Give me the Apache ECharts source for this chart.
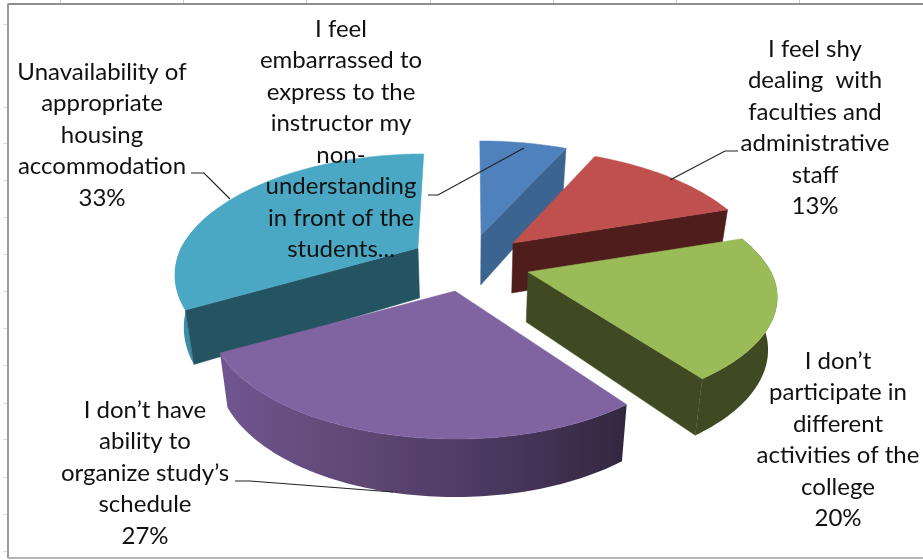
<!DOCTYPE html>
<html>
<head>
<meta charset="utf-8">
<style>html,body{margin:0;padding:0;background:#fff}#chart{width:923px;height:560px}</style>
<script src="https://cdn.jsdelivr.net/npm/echarts@6/dist/echarts.min.js"></script>
</head>
<body>
<div id="chart"></div>
<script>
// Survey answers, clockwise from twelve o'clock
const categories = [
  "I feel embarrassed to express to the instructor my non-understanding in front of the students...",
  "I feel shy dealing  with faculties and administrative staff",
  "I don’t participate in different activities of the college",
  "I don’t have ability to organize study’s schedule",
  "Unavailability of appropriate housing accommodation"
];
const values = [7, 13, 20, 27, 33];
const labelTexts = [
  "I feel\nembarrassed to\nexpress to the\ninstructor my\nnon-\nunderstanding\nin front of the\nstudents...",
  "I feel shy\ndealing  with\nfaculties and\nadministrative\nstaff\n13%",
  "I don’t\nparticipate in\ndifferent\nactivities of the\ncollege\n20%",
  "I don’t have\nability to\norganize study’s\nschedule\n27%",
  "Unavailability of\nappropriate\nhousing\naccommodation\n33%"
];

// Slice appearance and placement, same order as the values
const topColors = ["#4f81bd", "#c0504d", "#9bbb59", "#8064a2", "#4aa8c4"];
const cutColors = ["#3b6491", "#4f1e1c", "#3f4a22", "#5d4776", "#245361"];
const rimStops = [
  ["#3b6491", "#3b6491"],
  ["#4f1e1c", "#4f1e1c"],
  ["#3f4a22", "#3f4a22"],
  ["#6f5690", "#5f4875", "#4b3860", "#33273f"],
  ["#3c8ea8", "#3c8ea8"]
];
const apexes = [[481, 235], [513, 243], [528, 272], [455, 291], [418, 248]];
const stretchX = [1, 1, 1, 0.985, 0.975];
const nearStretchY = [1, 1, 0.94, 1, 1];
const labelCenters = [[341, 139.5], [815, 128], [838, 440], [145, 473], [102, 135]];
const leaderLines = [
  [[428, 195], [438, 195], [524, 148]],
  [[738, 151], [725, 151], [670, 180]],
  null,
  [[235, 481], [250, 481], [393, 492]],
  [[191, 173], [204, 173], [230, 199]]
];
const drawOrder = [0, 4, 1, 2, 3];

// Perspective of the tilted pie
const radiusX = 243, radiusY = 115, tilt = 0.223, vanishX = 470, farLean = 0.6;
const baseDepth = 51, depthSwing = 7, bottomShrink = 0.03, silhouetteMargin = 0.35;

const total = values.reduce((a, b) => a + b, 0);
const startAngles = [];
values.reduce((acc, v, i) => { startAngles[i] = acc; return acc + v / total * 2 * Math.PI; }, 0);

function rimPoint(i, theta) {
  const [ax, ay] = apexes[i];
  const c = Math.cos(theta);
  const s = 1 + tilt * c;
  const lean = (ax - vanishX) * Math.min(0, 1 / s - 1) * farLean;
  const sy = c < 0 ? nearStretchY[i] : 1;
  return [ax + lean + stretchX[i] * radiusX * Math.sin(theta) / s,
          ay - sy * radiusY * c / s];
}
function lowerPoint(p, theta) {
  return [p[0] + (vanishX - p[0]) * bottomShrink, p[1] + baseDepth - depthSwing * Math.cos(theta)];
}
function arcPoints(i, from, to) {
  const n = Math.max(2, Math.ceil((to - from) / 0.02));
  const pts = [];
  for (let k = 0; k <= n; k++) {
    const t = from + (to - from) * k / n;
    pts.push({ t, p: rimPoint(i, t) });
  }
  return pts;
}
function poly(points, fill) {
  return { type: 'polygon', shape: { points }, style: { fill, stroke: fill, lineWidth: 0.5 } };
}
function cutFace(i, theta) {
  const a = apexes[i], r = rimPoint(i, theta);
  const aLow = [a[0] + (vanishX - a[0]) * bottomShrink, a[1] + baseDepth - 1];
  return poly([a, r, lowerPoint(r, theta), aLow], cutColors[i]);
}

function renderSlice(params) {
  const i = drawOrder[params.dataIndex];
  const t0 = startAngles[i];
  const t1 = t0 + values[i] / total * 2 * Math.PI;
  const children = [];
  // The outer wall runs a little past the side extremes so its outline meets the top face tangentially
  const from = Math.max(t0, Math.PI / 2 - silhouetteMargin);
  const to = Math.min(t1, 1.5 * Math.PI + silhouetteMargin);
  if (to > from && i !== 0 && i !== 1) {
    const top = arcPoints(i, from, to);
    const shell = top.map(o => o.p).concat(top.slice().reverse().map(o => lowerPoint(o.p, o.t)));
    const stops = rimStops[i];
    const fill = new echarts.graphic.LinearGradient(0, 0, 1, 0,
      stops.map((color, k) => ({ offset: k / (stops.length - 1), color })));
    children.push({ type: 'polygon', shape: { points: shell }, style: { fill } });
  }
  if (Math.sin(t1) > 0) children.push(cutFace(i, t1));
  if (Math.sin(t0) < 0) children.push(cutFace(i, t0));
  children.push(poly([apexes[i]].concat(arcPoints(i, t0, t1).map(o => o.p)), topColors[i]));
  return { type: 'group', children };
}

function renderLabel(params) {
  const i = params.dataIndex;
  const children = [];
  if (leaderLines[i]) {
    children.push({ type: 'polyline', shape: { points: leaderLines[i] },
      style: { fill: 'none', stroke: '#222', lineWidth: 1.2 } });
  }
  children.push({ type: 'text', x: labelCenters[i][0], y: labelCenters[i][1],
    style: { text: labelTexts[i], fill: '#111', font: '24px Lato',
      lineHeight: 31.5, align: 'center', verticalAlign: 'middle' } });
  return { type: 'group', children };
}

// Surrounding frame and faint worksheet rules
const sheetColumns = [60, 183, 306, 430, 553, 676, 799];
const sheetRows = [24, 107, 143, 180, 217, 254, 291, 328, 365, 403, 439, 477, 514, 551];
const rule = (x1, y1, x2, y2, stroke, lineWidth) =>
  ({ type: 'line', shape: { x1, y1, x2, y2 }, style: { stroke, lineWidth } });
const furniture = [
  ...sheetColumns.map(x => rule(x + 0.5, 0, x + 0.5, 4, '#c9c9c9', 1)),
  ...sheetRows.map(y => rule(3, y + 0.5, 8, y + 0.5, '#d9dce8', 1)),
  rule(7.5, 4, 923, 4, '#8e8e8e', 2),
  rule(8, 4, 8, 558, '#9a9a9a', 2),
  rule(8, 558, 923, 558, '#b5b5b5', 2)
];

const chart = echarts.init(document.getElementById('chart'), null, { renderer: 'canvas' });
chart.setOption({
  animation: false,
  backgroundColor: '#ffffff',
  graphic: { elements: furniture },
  series: [
    { type: 'custom', coordinateSystem: 'none', silent: true, z: 2,
      data: drawOrder.map(i => ({ name: categories[i], value: values[i] })),
      renderItem: renderSlice },
    { type: 'custom', coordinateSystem: 'none', silent: true, z: 3,
      data: categories.map((name, i) => ({ name, value: values[i] })),
      renderItem: renderLabel }
  ]
});
</script>
</body>
</html>
